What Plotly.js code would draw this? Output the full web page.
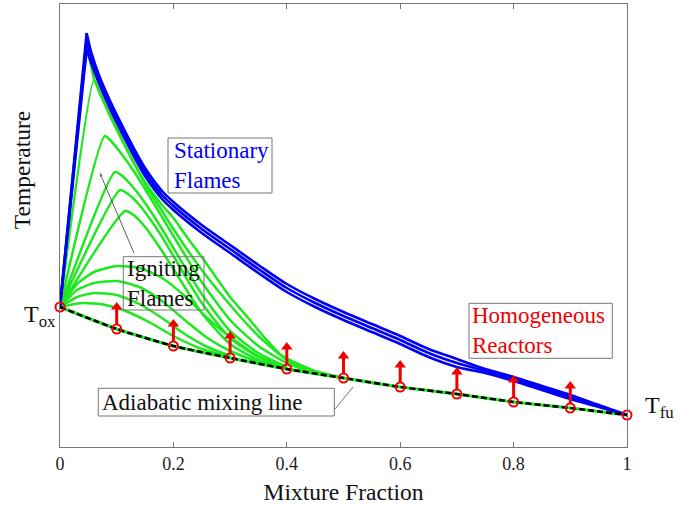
<!DOCTYPE html>
<html><head><meta charset="utf-8">
<script src="https://cdn.plot.ly/plotly-3.0.1.min.js"></script>
<style>html,body{margin:0;padding:0;background:#fff}#chart{width:681px;height:506px}</style>
</head><body><div id="chart"></div>
<script>
// Mixture fraction / temperature (arbitrary units)
const zMix = [0, 0.1, 0.2, 0.3, 0.4, 0.5, 0.6, 0.7, 0.8, 0.9, 1.0];
const tMix = [140, 118, 101, 89, 78, 69, 60, 53, 45, 39, 32];

const zBlue = [0, 0.047, 0.055, 0.07, 0.09, 0.11, 0.13, 0.15, 0.18, 0.2, 0.25, 0.3, 0.35, 0.4, 0.45, 0.5, 0.55, 0.6, 0.65, 0.7, 0.75, 0.8, 0.85, 0.9, 0.95, 1.0];
const tBlueUpper = [140, 414, 395, 370, 344, 321, 299, 279, 256, 245, 222, 202, 182, 163, 148, 135, 123, 111, 98, 88, 78, 70, 61, 52, 42, 32];
const tBlueMid   = [140, 406, 390, 366, 340, 317, 295, 275, 252, 241, 218, 198, 178, 159, 144, 131, 119, 107, 94, 84, 76, 68, 59, 50, 41, 32];
const tBlueLower = [140, 398, 384, 362, 336, 313, 291, 271, 248, 237, 214, 194, 174, 155, 140, 127, 115, 103, 90, 80, 74, 66, 57, 48, 40, 32];

const zIgn1 = [0, 0.049, 0.06, 0.07, 0.09, 0.11, 0.13, 0.15, 0.18, 0.2, 0.22, 0.25, 0.3, 0.335, 0.36, 0.39, 0.42, 0.45, 0.5];
const tIgn1 = [140, 393, 368, 355, 330, 307, 285, 265, 242, 229, 213, 190, 150, 127, 110, 92, 83, 76, 69];
const zIgn2 = [0, 0.06, 0.07, 0.09, 0.11, 0.13, 0.15, 0.18, 0.2, 0.22, 0.25, 0.3, 0.35, 0.4, 0.45];
const tIgn2 = [140, 367, 354, 329, 306, 284, 263, 236, 218, 201, 177, 142, 111, 87, 74];
const zIgn3 = [0, 0.079, 0.09, 0.11, 0.13, 0.15, 0.18, 0.2, 0.25, 0.3, 0.35, 0.4, 0.45];
const tIgn3 = [140, 311, 306, 292, 276, 258, 230, 211, 165, 127, 101, 84, 74];
const zIgn4 = [0, 0.097, 0.11, 0.13, 0.15, 0.18, 0.2, 0.25, 0.3, 0.35, 0.4];
const tIgn4 = [140, 275, 271, 259, 244, 218, 199, 153, 116, 94, 80];
const zIgn5 = [0, 0.106, 0.12, 0.14, 0.16, 0.18, 0.2, 0.25, 0.3, 0.35, 0.4];
const tIgn5 = [140, 257, 253, 242, 227, 210, 191, 144, 109, 90, 79];
const zIgn6 = [0, 0.115, 0.13, 0.15, 0.18, 0.2, 0.25, 0.3, 0.35, 0.4];
const tIgn6 = [140, 236, 232, 220, 196, 178, 134, 103, 87, 79];
const zIgn7 = [0, 0.03, 0.06, 0.1, 0.14, 0.18, 0.22, 0.26, 0.3, 0.35, 0.4];
const tIgn7 = [140, 163, 175, 181, 179, 169, 151, 129, 110, 91, 80];
const zIgn8 = [0, 0.03, 0.06, 0.1, 0.14, 0.18, 0.22, 0.26, 0.3, 0.35];
const tIgn8 = [140, 157, 164, 166, 160, 146, 127, 109, 96, 85];
const zIgn9 = [0, 0.03, 0.06, 0.1, 0.14, 0.18, 0.22, 0.26, 0.3];
const tIgn9 = [140, 150, 154, 152, 143, 129, 113, 100, 91];
const zIgn10 = [0, 0.04, 0.08, 0.12, 0.16, 0.2, 0.25, 0.3];
const tIgn10 = [140, 144, 142, 135, 124, 111, 98, 90];

// pointer arrow from the "Igniting Flames" label towards the ignited flames
const zPointer = [0.1305, 0.0688];
const tPointer = [194, 276];

const tickVals = [0, 0.2, 0.4, 0.6, 0.8, 1];
const tickText = ['0', '0.2', '0.4', '0.6', '0.8', '1'];

const FONT = 'Liberation Serif, Times New Roman, serif';
const BLUE = 'rgb(0,0,245)';
const GREEN = 'rgb(30,232,30)';
const RED = 'rgb(240,0,0)';
const TMAX = 443;

const igniting = [[zIgn1,tIgn1],[zIgn2,tIgn2],[zIgn3,tIgn3],[zIgn4,tIgn4],[zIgn5,tIgn5],
                  [zIgn6,tIgn6],[zIgn7,tIgn7],[zIgn8,tIgn8],[zIgn9,tIgn9],[zIgn10,tIgn10]];

const traces = [];
igniting.forEach(([z,t]) => traces.push({x:z, y:t, type:'scatter', mode:'lines',
  line:{color:GREEN, width:2.5, shape:'spline', smoothing:0.6}, hoverinfo:'skip'}));
traces.push({x:zMix, y:tMix, type:'scatter', mode:'lines', line:{color:GREEN, width:3.2, shape:'spline', smoothing:0.5}});
[tBlueUpper, tBlueMid, tBlueLower].forEach(t => {
  traces.push({x:zBlue.slice(0,2), y:t.slice(0,2), type:'scatter', mode:'lines', line:{color:BLUE, width:2.6}});
  traces.push({x:zBlue.slice(1), y:t.slice(1), type:'scatter', mode:'lines', line:{color:BLUE, width:2.6, shape:'spline', smoothing:0.8}});
});
traces.push({x:zMix, y:tMix, type:'scatter', mode:'lines', line:{color:'#000', width:2.6, dash:'6px,3px', shape:'spline', smoothing:0.5}});

// red arrows above interior homogeneous-reactor points
const inner = zMix.map((z,i)=>i).filter(i => i > 0 && i < zMix.length-1);
const shaftX = [], shaftY = [];
inner.forEach(i => { shaftX.push(zMix[i], zMix[i], null); shaftY.push(tMix[i]+5, tMix[i]+21, null); });
traces.push({x:shaftX, y:shaftY, type:'scatter', mode:'lines', line:{color:RED, width:3}});
traces.push({x:inner.map(i=>zMix[i]), y:inner.map(i=>tMix[i]+22), type:'scatter', mode:'markers',
  marker:{symbol:'triangle-up', size:10, color:RED, line:{width:0}}});
traces.push({x:zMix, y:tMix, type:'scatter', mode:'markers', cliponaxis:false,
  marker:{symbol:'circle-open', size:9, color:RED, line:{color:RED, width:2}}});
traces.push({x:zPointer, y:tPointer, type:'scatter', mode:'lines+markers', line:{color:'#333', width:0.8},
  marker:{symbol:'arrow', angleref:'previous', size:[0,7], color:'#333'}});

const annotations = [];
// label positions: x in paper units (= data units here), y given in temperature units
const txt = (x,y,text,color) => ({x:x, y:y/TMAX, xref:'paper', yref:'paper', text:text, showarrow:false,
  xanchor:'left', yanchor:'middle', align:'left', font:{family:FONT, size:23, color:color}});
annotations.push(txt(0.1975, 281.5, 'Stationary<br>Flames', BLUE));
annotations.push(txt(0.1150, 163.5, 'Igniting<br>Flames', '#111'));
annotations.push(txt(0.7230, 116.2, 'Homogeneous<br>Reactors', RED));
annotations.push(txt(0.0710, 44.9, 'Adiabatic mixing line', '#111'));
annotations.push({x:-0.004, y:131.5/TMAX, xref:'paper', yref:'paper', text:'T<sub>ox</sub>', showarrow:false,
  xanchor:'right', yanchor:'middle', font:{family:FONT, size:24, color:'#111'}});
annotations.push({x:1.028, y:40.5/TMAX, xref:'paper', yref:'paper', text:'T<sub>fu</sub>', showarrow:false,
  xanchor:'left', yanchor:'middle', font:{family:FONT, size:24, color:'#111'}});
annotations.push({x:-0.067, y:0.625, xref:'paper', yref:'paper', text:'Temperature', textangle:-90, showarrow:false,
  xanchor:'center', yanchor:'middle', font:{family:FONT, size:23.5, color:'#111'}});

const box = (x0,x1,y0,y1) => ({type:'rect', xref:'x', yref:'y', x0:x0, x1:x1, y0:y0, y1:y1,
  line:{color:'#777', width:1}, fillcolor:'rgba(0,0,0,0)'});
const shapes = [
  box(0.1905, 0.3739, 254, 309),
  box(0.1116, 0.2540, 137, 190.3),
  box(0.7213, 0.9741, 88.7, 143.7),
  box(0.0675, 0.4838, 31, 58.7),
  {type:'line', xref:'x', yref:'y', x0:0.485, y0:38, x1:0.5168, y1:60, line:{color:'#777', width:1}}
];

const layout = {
  width:681, height:506,
  margin:{l:60, r:54, t:4, b:59},
  paper_bgcolor:'#fff', plot_bgcolor:'#fff',
  showlegend:false,
  xaxis:{range:[0,1], showgrid:false, zeroline:false, showline:true, mirror:'ticks', linecolor:'#777', linewidth:1,
    ticks:'inside', ticklen:5, tickcolor:'#777', tickwidth:1, tickvals:tickVals, ticktext:tickText,
    tickfont:{family:FONT, size:18, color:'#222'},
    title:{text:'Mixture Fraction', standoff:10, font:{family:FONT, size:23.5, color:'#111'}}},
  yaxis:{range:[0,TMAX], showgrid:false, zeroline:false, showline:true, mirror:true, linecolor:'#777', linewidth:1,
    ticks:'', showticklabels:false},
  annotations:annotations,
  shapes:shapes
};
Plotly.newPlot('chart', traces, layout, {staticPlot:true, displayModeBar:false});
</script></body></html>
